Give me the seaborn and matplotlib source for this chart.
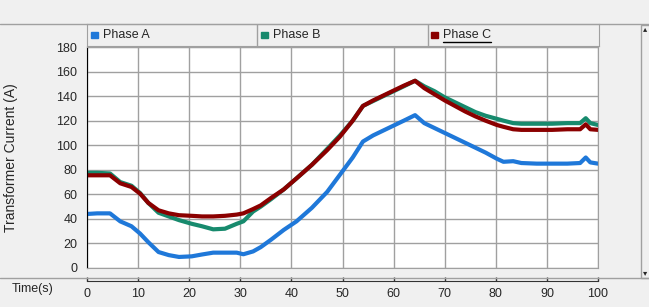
import pandas as pd
import matplotlib.pyplot as plt
import matplotlib.lines as mlines
import matplotlib.patches as mpatches
import seaborn as sns

# time axis (s) and the three phase currents (A)
time_s = [0, 2, 4.5, 6.5, 8.7, 10.4, 12, 14, 16, 18, 20.5, 22.5, 24.7, 27, 29.3, 30.6,
          32.5, 34, 36, 38.5, 41, 44, 47, 49.5, 52, 54, 56, 58, 60, 62, 64.2, 66, 68,
          70, 72, 74, 76, 78, 80.2, 81.5, 83.4, 85, 88, 91, 94, 96.5, 97.6, 98.5, 100]
phase_a = [44, 44.5, 44.5, 38, 34, 28, 21, 13, 10.5, 9, 9.5, 11, 12.5, 12.5, 12.5, 11.2,
           13.5, 17, 23, 31, 38, 49, 62, 76, 90, 103, 108, 112, 116, 120, 124.5, 118, 114,
           110, 106, 102, 98, 94, 89, 86.5, 87, 85.5, 85, 85, 85, 85.5, 90, 86, 85]
phase_b = [77.5, 77.5, 77, 70, 67, 61, 53, 45, 42, 39, 36, 34, 31.5, 32, 36, 38,
           46, 50, 56, 64, 73, 84, 97, 108, 120, 132, 136, 140, 144, 148, 152.5, 148, 144,
           139, 135, 131, 127, 124, 121.5, 120, 118, 117.5, 117.5, 117.5, 118, 118, 122, 118, 116.5]
phase_c = [75.5, 75.5, 75.5, 69, 66, 60.5, 53, 47, 44.5, 43, 42.5, 42, 42, 42.5, 43.5, 44.5,
           48, 51, 57, 64, 73, 84, 96, 107, 120, 132, 136.5, 140.5, 144.5, 148.5, 152.5, 146.5, 141.5,
           136.5, 132, 127.5, 123.5, 120, 116.5, 115, 113, 112.5, 112.5, 112.5, 113, 113, 117, 113, 112.5]
phase_names = ["Phase A", "Phase B", "Phase C"]
phase_colors = ["#1f78d9", "#178a6d", "#8b0000"]

sns.set_style("white")
plt.rcParams["font.family"] = ["Liberation Sans", "DejaVu Sans"]

W, H = 649, 307
BG = "#f0f0f0"
GRID = "#a0a0a0"


def fx(px):
    return px / W


def fy(py):
    return 1 - py / H


df = pd.concat([
    pd.DataFrame({"Time": time_s, "Current": vals, "Phase": name})
    for name, vals in zip(phase_names, [phase_a, phase_b, phase_c])
])

fig = plt.figure(figsize=(W / 100, H / 100), dpi=100, facecolor=BG)

# main plot
ax = fig.add_axes([fx(87), fy(268), fx(598 - 87), (268 - 47) / H])
ax.set_facecolor("white")
sns.lineplot(data=df, x="Time", y="Current", hue="Phase", hue_order=phase_names,
             palette=dict(zip(phase_names, phase_colors)), estimator=None,
             linewidth=3.0, legend=False, ax=ax)
ax.set_xlim(0, 100)
ax.set_ylim(0, 180)
ax.set_xticks(range(0, 101, 10))
ax.set_yticks(range(0, 181, 20))
ax.grid(True, color=GRID, linewidth=1)
ax.set_axisbelow(True)
ax.tick_params(axis="x", length=0, labelbottom=False)
ax.tick_params(axis="y", length=5, width=1, color="black", labelsize=9, pad=2)
ax.set_xlabel("")
ax.set_ylabel("Transformer Current (A)", fontsize=10)
ax.yaxis.set_label_coords((18 - 87) / 511, 0.5)
for side in ["top", "right", "bottom"]:
    ax.spines[side].set_color(GRID)
ax.spines["left"].set_color("black")

# legend row above the plot
lg = fig.add_axes([fx(87), fy(46), fx(599 - 87), (46 - 24) / H])
lg.set_facecolor(BG)
lg.set_xlim(87, 599)
lg.set_ylim(46, 24)
lg.set_xticks([])
lg.set_yticks([])
for s in lg.spines.values():
    s.set_color(GRID)
for x0 in [257, 428]:
    lg.axvline(x0, color=GRID, linewidth=1)
for x0, name, col in zip([91, 261, 431], phase_names, phase_colors):
    lg.add_patch(mpatches.Rectangle((x0, 31.5), 7, 6, color=col))
    lg.text(x0 + 12, 35.5, name, fontsize=9, va="center", ha="left")
lg.plot([443, 491], [42, 42], color="black", linewidth=1)

# time axis below
tx = fig.add_axes([fx(87), fy(281), fx(598 - 87), 0.0001])
tx.set_facecolor("none")
tx.set_xlim(0, 100)
tx.set_xticks(range(0, 101, 10))
tx.set_yticks([])
for side in ["left", "right", "bottom"]:
    tx.spines[side].set_visible(False)
tx.spines["top"].set_color("#333333")
tx.tick_params(axis="x", direction="out", length=3, width=1, color="#333333",
               labelsize=9, pad=2, top=True, bottom=False, labeltop=False, labelbottom=True)
fig.text(fx(12), fy(289), "Time(s)", fontsize=9, va="center", ha="left")

# window chrome: separator lines and scrollbar
fig.add_artist(mlines.Line2D([0, 1], [fy(23.5), fy(23.5)], color=GRID, linewidth=1))
fig.add_artist(mlines.Line2D([0, 1], [fy(277.5), fy(277.5)], color=GRID, linewidth=1))
fig.add_artist(mpatches.Rectangle((fx(641), fy(278)), fx(10), (278 - 25) / H,
                                  facecolor=BG, edgecolor=GRID, linewidth=1))
fig.text(fx(645), fy(29), "\u25b4", fontsize=6, ha="center", va="center",
         family=["DejaVu Sans"])
fig.text(fx(645), fy(273), "\u25be", fontsize=6, ha="center", va="center",
         family=["DejaVu Sans"])

fig.savefig("out.png", dpi=100, facecolor=BG)
